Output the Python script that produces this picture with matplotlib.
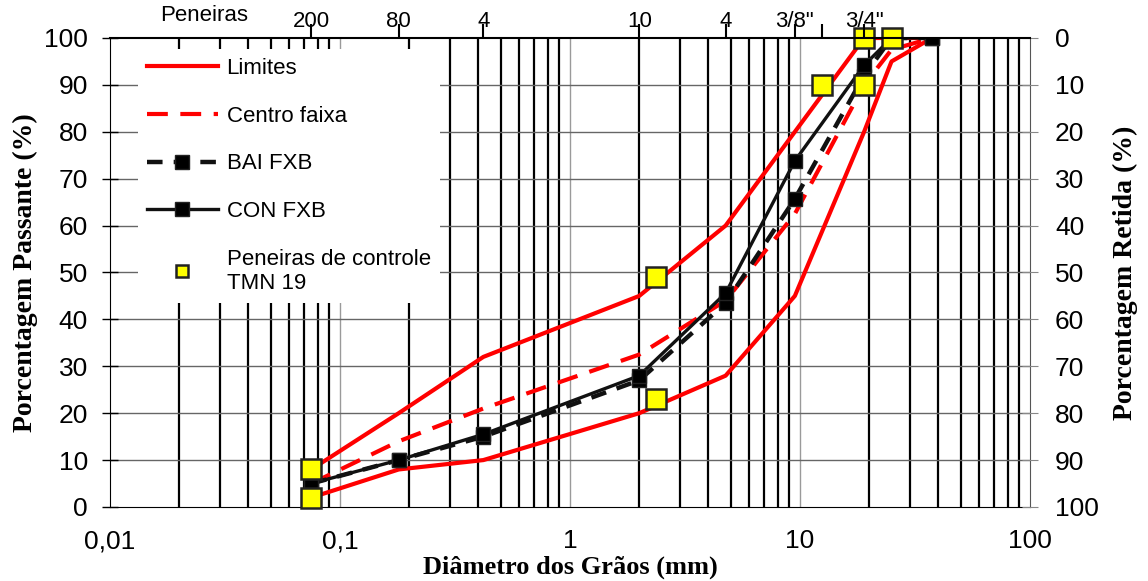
import numpy as np
import matplotlib.pyplot as plt
from matplotlib.ticker import MultipleLocator

plt.rcParams['font.family'] = ['Liberation Sans', 'DejaVu Sans']

# peneiras (mm)
peneiras = [0.075, 0.18, 0.42, 2.0, 4.75, 9.5, 19.0, 25.0, 37.5]

lim_sup = [8, 20, 32, 45, 60, 80, 100, 100, 100]
lim_inf = [2, 8, 10, 20, 28, 45, 80, 95, 100]
centro = [5, 14, 21, 32.5, 44, 62.5, 90, 97.5, 100]

bai_fxb = [5, 10, 15, 27, 43.5, 65.7, 92, 100, 100]
con_fxb = [5, 10, 15.5, 28, 45.6, 73.8, 94.2, 100, 100]

# peneiras de controle TMN 19
ctrl_d_sup = [0.075, 2.36, 12.5, 19.0, 25.0]
ctrl_sup = [8, 49, 90, 100, 100]
ctrl_d_inf = [0.075, 2.36, 19.0]
ctrl_inf = [2, 23, 90]

# eixo superior
top_d = [0.075, 0.18, 0.42, 2.0, 4.75, 9.5, 12.5, 19.0]
top_lab = ['200', '80', '4', '10', '4', '3/8"', '', '3/4"']

fig = plt.figure(figsize=(11.48, 5.81), dpi=100)
ax = fig.add_axes([0.0958, 0.1274, 0.8014, 0.8072])
ax.set_xscale('log')
ax.set_xlim(0.01, 100)
ax.set_ylim(0, 100)

# grade
for dec in [0.01, 0.1, 1, 10]:
    for m in range(2, 10):
        ax.axvline(m * dec, color='black', lw=1.6, zorder=1)
for v in [0.1, 1, 10]:
    ax.axvline(v, color='#9a9a9a', lw=1.0, zorder=1)
for h in range(10, 100, 10):
    ax.axhline(h, color='#666666', lw=1.0, zorder=1)

ax.plot(peneiras, lim_sup, color='red', lw=3, zorder=3, label='Limites')
ax.plot(peneiras, lim_inf, color='red', lw=3, zorder=3)
ax.plot(peneiras, centro, color='red', lw=3, ls=(0, (5, 3)), zorder=3,
        label='Centro faixa')
ax.plot(peneiras, bai_fxb, color='#111111', lw=3.2, ls=(0, (3.5, 2.5)),
        marker='s', ms=10, mfc='black', mec='#222222', zorder=4,
        label='BAI FXB')
ax.plot(peneiras, con_fxb, color='#111111', lw=2.4, marker='s', ms=10,
        mfc='black', mec='#222222', zorder=5, label='CON FXB')
ax.plot(ctrl_d_sup, ctrl_sup, ls='none', marker='s', ms=14, mfc='yellow',
        mec='#222222', mew=1.8, zorder=6, clip_on=False,
        label='Peneiras de controle\nTMN 19')
ax.plot(ctrl_d_inf, ctrl_inf, ls='none', marker='s', ms=14, mfc='yellow',
        mec='#222222', mew=1.8, zorder=6, clip_on=False)

ax.set_xticks([0.01, 0.1, 1, 10, 100])
ax.set_xticklabels(['0,01', '0,1', '1', '10', '100'])
ax.minorticks_off()
ax.set_yticks(range(0, 101, 10))
ax.yaxis.set_minor_locator(MultipleLocator(5))
ax.tick_params(axis='y', which='major', labelsize=19, direction='inout',
               length=12, width=1, pad=10)
ax.tick_params(axis='y', which='minor', direction='out', length=6, width=1)
ax.tick_params(axis='x', labelsize=19, length=0, pad=16)
for s in ['left', 'bottom']:
    ax.spines[s].set_color('black')
ax.spines['right'].set_color('#555555')
ax.spines['top'].set_visible(False)

ax.set_xlabel('Diâmetro dos Grãos (mm)', family='Liberation Serif',
              fontweight='bold', fontsize=19, labelpad=2)
ax.set_ylabel('Porcentagem Passante (%)', family='Liberation Serif',
              fontweight='bold', fontsize=20, labelpad=4)

# eixo da direita (retido)
ax2 = ax.twinx()
ax2.set_ylim(100, 0)
ax2.set_yticks(range(0, 101, 10))
ax2.tick_params(axis='y', labelsize=19, direction='inout', length=12,
                color='#888888', pad=12)
ax2.set_ylabel('Porcentagem Retida (%)', family='Liberation Serif',
               fontweight='bold', fontsize=20, labelpad=10)
for s in ax2.spines.values():
    s.set_visible(False)

# eixo superior com as peneiras
ax3 = ax.twiny()
ax3.set_xscale('log')
ax3.set_xlim(0.01, 100)
ax3.set_xticks(top_d)
ax3.set_xticklabels(top_lab)
ax3.minorticks_off()
ax3.tick_params(axis='x', labelsize=16, length=10, width=1.5, pad=-6)
ax3.spines['top'].set_linewidth(1.5)
for s in ['left', 'right', 'bottom']:
    ax3.spines[s].set_visible(False)
ax3.text(0.0257, 1.025, 'Peneiras', transform=ax3.get_xaxis_transform(),
         ha='center', va='bottom', fontsize=16)

leg = ax.legend(loc='upper left', bbox_to_anchor=(0.018, 1.0), fontsize=16,
                frameon=True, framealpha=1, edgecolor='white', fancybox=False,
                handlelength=3.2, labelspacing=1.2, borderpad=0.4,
                handletextpad=0.4)
leg.set_zorder(10)
leg.get_frame().set_linewidth(0)
leg.legend_handles[4].set_markersize(8)

fig.savefig('out.png', dpi=100)
